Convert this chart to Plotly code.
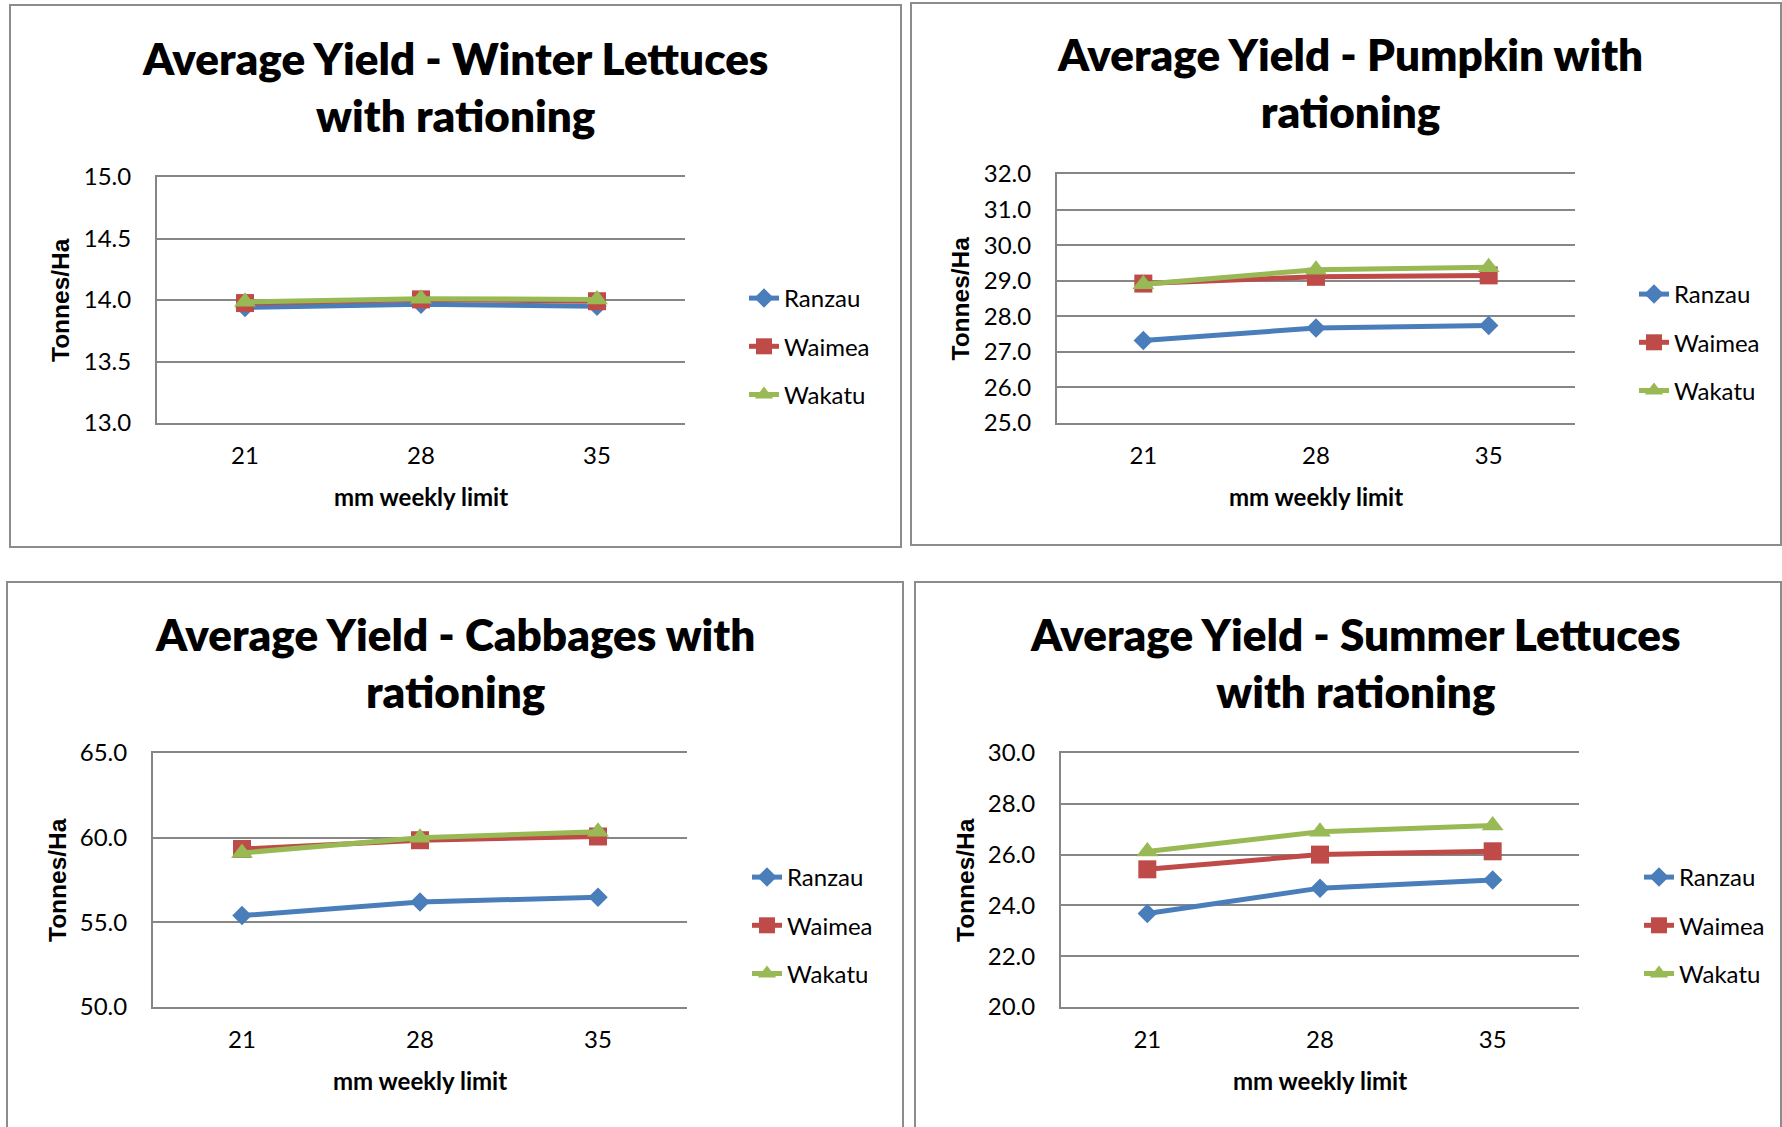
import plotly.graph_objects as go

W, H = 1782, 1127

categories = ["21", "28", "35"]
series_names = ["Ranzau", "Waimea", "Wakatu"]

winter_ranzau = [13.94, 13.965, 13.95]
winter_waimea = [13.975, 14.005, 13.99]
winter_wakatu = [13.985, 14.01, 14.005]

pumpkin_ranzau = [27.32, 27.67, 27.74]
pumpkin_waimea = [28.92, 29.11, 29.15]
pumpkin_wakatu = [28.90, 29.31, 29.38]

cabbage_ranzau = [55.40, 56.20, 56.48]
cabbage_waimea = [59.33, 59.85, 60.07]
cabbage_wakatu = [59.10, 60.00, 60.35]

summer_ranzau = [23.68, 24.68, 25.00]
summer_waimea = [25.42, 26.00, 26.13]
summer_wakatu = [26.12, 26.90, 27.15]

chart_titles = [
    "Average Yield - Winter Lettuces<br>with rationing",
    "Average Yield - Pumpkin with<br>rationing",
    "Average Yield - Cabbages with<br>rationing",
    "Average Yield - Summer Lettuces<br>with rationing",
]
y_title = "Tonnes/Ha"
x_title = "mm weekly limit"

y_ranges = [[13.0, 15.0], [25.0, 32.0], [50.0, 65.0], [20.0, 30.0]]
y_dticks = [0.5, 1.0, 5.0, 2.0]

panel_data = [
    [winter_ranzau, winter_waimea, winter_wakatu],
    [pumpkin_ranzau, pumpkin_waimea, pumpkin_wakatu],
    [cabbage_ranzau, cabbage_waimea, cabbage_wakatu],
    [summer_ranzau, summer_waimea, summer_wakatu],
]

# layout (pixel boxes)
plot_boxes = [  # x0, x1, ytop, ybottom
    (157, 685, 177, 423),
    (1057, 1575, 174, 423),
    (153, 687, 753, 1007),
    (1061, 1579, 753, 1007),
]
frames = [  # x0, y0, x1, y1
    (10, 5, 901, 547),
    (911, 3, 1781, 545),
    (7, 582, 903, 1140),
    (915, 582, 1781, 1140),
]
title_centers = [(455, 86), (1350, 82), (455, 662), (1355, 662)]
ytitle_x = [60, 960, 57, 965]
legend_pos = [(744, 298), (1634, 294), (747, 877), (1639, 877)]

colors = ["#4A7EBB", "#BE4B48", "#98B954"]
symbols = ["diamond", "square", "triangle-up"]
sizes = [15, 18, 19]

BODY = "Lato"
fig = go.Figure()

def px_x(x):
    return x / W

def px_y(y):
    return 1 - y / H

annotations = []
shapes = []
for i in range(4):
    n = "" if i == 0 else str(i + 1)
    x0, x1, yt, yb = plot_boxes[i]
    legend_name = "legend" + n
    for s in range(3):
        fig.add_trace(go.Scatter(
            x=categories, y=panel_data[i][s], name=series_names[s],
            mode="lines+markers",
            line=dict(color=colors[s], width=5),
            marker=dict(symbol=symbols[s], size=sizes[s], color=colors[s],
                        line=dict(width=0)),
            xaxis="x" + n, yaxis="y" + n,
            legend=legend_name, legendgroup=f"p{i}s{s}",
        ))
    fig.update_layout(**{
        "xaxis" + n: dict(
            domain=[px_x(x0), px_x(x1)], anchor="y" + n, type="category",
            range=[-0.5, 2.5], showgrid=False, showline=True, mirror=True,
            linecolor="#868686", linewidth=2, ticks="", ticklabelstandoff=10,
            tickfont=dict(family=BODY, size=24, color="#000"), zeroline=False,
        ),
        "yaxis" + n: dict(
            domain=[px_y(yb), px_y(yt)], anchor="x" + n,
            range=y_ranges[i], dtick=y_dticks[i], tick0=y_ranges[i][0],
            tickformat=".1f", showgrid=True, gridcolor="#868686", gridwidth=2,
            showline=True, linecolor="#868686", linewidth=2, ticks="",
            ticklabelstandoff=19, zeroline=False,
            tickfont=dict(family=BODY, size=24, color="#000"),
        ),
        legend_name: dict(
            x=px_x(legend_pos[i][0]), y=px_y(legend_pos[i][1] - 22),
            xanchor="left", yanchor="top", bgcolor="rgba(0,0,0,0)",
            font=dict(family=BODY, size=24, color="#000"),
            tracegroupgap=14, itemsizing="trace",
        ),
    })
    tx, ty = title_centers[i]
    annotations.append(dict(
        text=chart_titles[i], x=px_x(tx), y=px_y(ty), xref="paper", yref="paper",
        xanchor="center", yanchor="middle", showarrow=False,
        font=dict(family=BODY, size=44, color="#000", weight=800),
    ))
    annotations.append(dict(
        text=x_title, x=px_x((x0 + x1) / 2), y=px_y(yb + 73), xref="paper", yref="paper",
        xanchor="center", yanchor="middle", showarrow=False,
        font=dict(family=BODY, size=24, color="#000", weight="bold"),
    ))
    annotations.append(dict(
        text=y_title, x=px_x(ytitle_x[i]), y=px_y((yt + yb) / 2), xref="paper", yref="paper",
        xanchor="center", yanchor="middle", showarrow=False, textangle=-90,
        font=dict(family="Liberation Sans", size=24.5, color="#000", weight="bold"),
    ))
    fx0, fy0, fx1, fy1 = frames[i]
    shapes.append(dict(
        type="rect", xref="paper", yref="paper",
        x0=px_x(fx0), x1=px_x(fx1), y0=px_y(fy1), y1=px_y(fy0),
        line=dict(color="#8C8C8C", width=2), fillcolor="rgba(0,0,0,0)",
    ))

fig.update_layout(
    width=W, height=H, margin=dict(l=0, r=0, t=0, b=0, autoexpand=False),
    paper_bgcolor="#FFFFFF", plot_bgcolor="#FFFFFF",
    annotations=annotations, shapes=shapes, showlegend=True,
)
fig.write_html("out.html")
